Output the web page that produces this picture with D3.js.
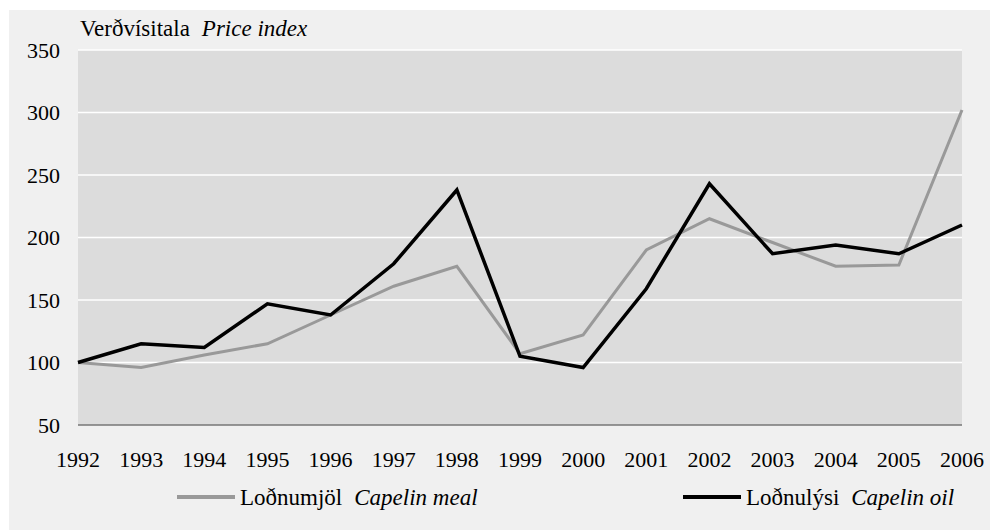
<!DOCTYPE html>
<meta charset="utf-8">
<style>
  body { margin: 0; background: #fff; }
  svg text { font-family: "Times New Roman", "Liberation Serif", "DejaVu Serif", serif; fill: #000; }
</style>
<svg width="990" height="531"></svg>
<script src="https://d3js.org/d3.v7.min.js"></script>
<script>
var years = [1992, 1993, 1994, 1995, 1996, 1997, 1998, 1999, 2000, 2001, 2002, 2003, 2004, 2005, 2006]
var mealValues = [100, 96, 106, 115, 138, 161, 177, 107, 122, 190, 215, 196, 177, 178, 302]
var oilValues = [100, 115, 112, 147, 138, 179, 238, 105, 96, 159, 243, 187, 194, 187, 210]
var yTicks = [50, 100, 150, 200, 250, 300, 350]

var series = [
  { name: "Loðnumjöl", en: "Capelin meal", values: mealValues, color: "#999999", width: 3 },
  { name: "Loðnulýsi", en: "Capelin oil", values: oilValues, color: "#000000", width: 3.5 }
]

var svg = d3.select("svg")
var plotLeft = 78, plotRight = 962, plotTop = 50, plotBottom = 425

// outer panel
svg.append("rect").attr("x", 9).attr("y", 10).attr("width", 981).attr("height", 520).attr("fill", "#f0f0f0")

var x = d3.scalePoint().domain(years).range([plotLeft, plotRight])
var y = d3.scaleLinear().domain([50, 350]).range([plotBottom, plotTop])

svg.append("rect").attr("x", plotLeft).attr("y", plotTop)
  .attr("width", plotRight - plotLeft).attr("height", plotBottom - plotTop).attr("fill", "#dcdcdc")

// gridlines
svg.append("g").selectAll("line").data(yTicks.slice(1)).enter().append("line")
  .attr("x1", plotLeft).attr("x2", plotRight)
  .attr("y1", function (d) { return y(d) }).attr("y2", function (d) { return y(d) })
  .attr("stroke", "#fff").attr("stroke-width", 1.5)

svg.append("line").attr("x1", plotLeft).attr("x2", plotRight).attr("y1", plotBottom).attr("y2", plotBottom)
  .attr("stroke", "#777").attr("stroke-width", 1.5)

// y labels
svg.append("g").selectAll("text").data(yTicks).enter().append("text")
  .attr("x", 60).attr("y", function (d) { return y(d) }).attr("dy", "0.35em")
  .attr("text-anchor", "end").attr("font-size", 22)
  .text(function (d) { return d })

// x labels
svg.append("g").selectAll("text").data(years).enter().append("text")
  .attr("x", function (d) { return x(d) }).attr("y", 467)
  .attr("text-anchor", "middle").attr("font-size", 22)
  .text(function (d) { return d })

// title
var title = svg.append("text").attr("x", 80).attr("y", 36).attr("font-size", 23)
title.append("tspan").text("Verðvísitala")
title.append("tspan").attr("dx", 12).attr("font-style", "italic").text("Price index")

// lines
var line = d3.line()
  .x(function (d, i) { return x(years[i]) })
  .y(function (d) { return y(d) })

svg.append("g").selectAll("path").data(series).enter().append("path")
  .attr("fill", "none")
  .attr("stroke", function (s) { return s.color })
  .attr("stroke-width", function (s) { return s.width })
  .attr("stroke-linejoin", "miter")
  .attr("d", function (s) { return line(s.values) })

// legend
var legendX = [177, 683]
var lg = svg.append("g").selectAll("g").data(series).enter().append("g")
  .attr("transform", function (s, i) { return "translate(" + legendX[i] + ",497)" })
lg.append("line").attr("x1", 0).attr("x2", 58).attr("y1", 0).attr("y2", 0)
  .attr("stroke", function (s) { return s.color }).attr("stroke-width", 4)
var lt = lg.append("text").attr("x", 63).attr("y", 0).attr("dy", "0.35em").attr("font-size", 23)
lt.append("tspan").text(function (s) { return s.name })
lt.append("tspan").attr("dx", 12).attr("font-style", "italic").text(function (s) { return s.en })
</script>
